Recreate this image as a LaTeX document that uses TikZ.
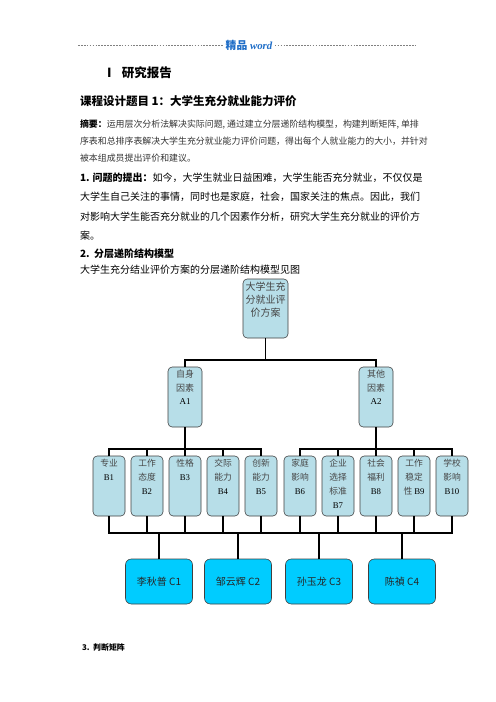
\documentclass[tikz,border=0pt]{standalone}
\usepackage{fontspec}
\setmainfont{Liberation Serif}
\newfontfamily\cjk{Noto Sans CJK SC}
\definecolor{boxfill}{RGB}{183,222,232}
\definecolor{cfill}{RGB}{0,204,255}
\definecolor{wordblue}{RGB}{31,110,200}
\definecolor{boxtext}{RGB}{70,70,70}
\begin{document}
\begin{tikzpicture}[x=1.2pt,y=-1.2pt,
        every node/.style = {inner sep=0pt,outer sep=0pt},
        txt/.style = {anchor=west,font=\cjk\fontsize{12}{14}\selectfont},
        small/.style = {anchor=west,font=\cjk\fontsize{10.7}{12}\selectfont,text=black!80},
        hbox/.style = {draw=black!75,fill=boxfill,rounded corners=5pt,line width=0.7pt,anchor=north},
        htxt/.style = {anchor=north,align=center,text=boxtext,font=\cjk\fontsize{10.5}{16.5}\selectfont},
        cbox/.style = {draw=black!75,fill=cfill,rounded corners=7pt,line width=0.7pt,
                minimum width=80.4pt,minimum height=54pt,font=\cjk\fontsize{12}{14}\selectfont,text=black!85},
        conn/.style = {draw=black,line width=1.8pt},
        hdash/.style = {draw=black!50,line width=0.5pt,dash pattern=on 2pt off 1.5pt}]
    \path[fill=white] (0,0) rectangle (496,702);
    % header
    \node[font=\cjk\bfseries\fontsize{13}{15}\selectfont,text=wordblue] (hdr) at (249,45) {精品\itshape\rmfamily\ word};
    \coordinate (hl) at (78,45);
    \coordinate (hr) at (416,45);
    \draw[hdash] (hl) -- ([xshift=-3pt]hdr.west);
    \draw[hdash] ([xshift=3pt]hdr.east) -- (hr);
    % text
    \node[txt,font=\bfseries\fontsize{15}{17}\selectfont] (sec1) at (103,73) {{\cjk Ⅰ}\ \ {\cjk 研究报告}};
    \node[txt,font=\cjk\bfseries\fontsize{13.8}{16}\selectfont] (title) at (80,101) {课程设计题目 1：大学生充分就业能力评价};
    \node[small] (abs1) at (80,124) {{\bfseries\color{black}摘要：}运用层次分析法解决实际问题, 通过建立分层递阶结构模型，构建判断矩阵, 单排};
    \node[small] (abs2) at (80,141) {序表和总排序表解决大学生充分就业能力评价问题，得出每个人就业能力的大小，并针对};
    \node[small] (abs3) at (80,158) {被本组成员提出评价和建议。};
    \node[txt] (p1) at (80,178) {{\bfseries 1. 问题的提出：}如今，大学生就业日益困难，大学生能否充分就业，不仅仅是};
    \node[txt] (p2) at (80,197) {大学生自己关注的事情，同时也是家庭，社会，国家关注的焦点。因此，我们};
    \node[txt] (p3) at (80,217) {对影响大学生能否充分就业的几个因素作分析，研究大学生充分就业的评价方};
    \node[txt] (p4) at (80,236) {案。};
    \node[txt,font=\cjk\bfseries\fontsize{12}{14}\selectfont] (sec2) at (80,254) {2.\ \ 分层递阶结构模型};
    \node[txt] (intro) at (80,270) {大学生充分结业评价方案的分层递阶结构模型见图};
    \node[txt,font=\cjk\bfseries\fontsize{9.5}{12}\selectfont] (sec3) at (82,647) {3.\ \ 判断矩阵};
    % hierarchy
    \coordinate (busA) at (0,360);
    \coordinate (busB) at (0,449);
    \coordinate (busC) at (0,533);
    \node[hbox,minimum width=54pt,minimum height=70.8pt] (top) at (265.5,279) {};
    \node[htxt,font=\cjk\fontsize{12}{15.3}\selectfont] at ([yshift=-4pt]top.north) {大学生充\\分就业评\\价方案};
    \node[hbox,minimum width=40.8pt,minimum height=72pt] (a1) at (185,367) {};
    \node[hbox,minimum width=40.8pt,minimum height=72pt] (a2) at (376,367) {};
    \node[htxt,font=\cjk\fontsize{10.8}{16}\selectfont] at ([yshift=-4pt]a1.north) {自身\\因素\\\rmfamily\color{black}A1};
    \node[htxt,font=\cjk\fontsize{10.8}{16}\selectfont] at ([yshift=-4pt]a2.north) {其他\\因素\\\rmfamily\color{black}A2};
    \foreach \n/\x/\t in {1/109/{专业\\\rmfamily\color{black}B1},2/147/{工作\\态度\\\rmfamily\color{black}B2},
            3/185/{性格\\\rmfamily\color{black}B3},4/223/{交际\\能力\\\rmfamily\color{black}B4},
            5/261/{创新\\能力\\\rmfamily\color{black}B5},6/300/{家庭\\影响\\\rmfamily\color{black}B6},
            7/338/{企业\\选择\\标准\\\rmfamily\color{black}B7},8/376/{社会\\福利\\\rmfamily\color{black}B8},
            9/414/{工作\\稳定\\性 \rmfamily\color{black}B9},10/452/{学校\\影响\\\rmfamily\color{black}B10}}{
        \node[hbox,minimum width=38.4pt,minimum height=72pt] (b\n) at (\x,456) {};
        \node[htxt] at ([yshift=-4pt]b\n.north) {\t};
    }
    \node[cbox] (c1) at (159,581.5) {李秋普 C1};
    \node[cbox] (c2) at (238,581.5) {邹云辉 C2};
    \node[cbox] (c3) at (319,581.5) {孙玉龙 C3};
    \node[cbox] (c4) at (402,581.5) {陈禎 C4};
    % connectors
    \draw[conn] (top.south) -- (top.south |- busA);
    \draw[conn] (a1.north) |- (a2.north |- busA) -- (a2.north);
    \draw[conn] (a1.south) -- (a1.south |- busB);
    \draw[conn] (a2.south) -- (a2.south |- busB);
    \draw[conn] (b1.north) |- (b5.north |- busB) -- (b5.north);
    \draw[conn] (b6.north) |- (b10.north |- busB) -- (b10.north);
    \foreach \n in {2,3,4,7,8,9}
        \draw[conn] (b\n.north) -- (b\n.north |- busB);
    \draw[conn] (b1.south) |- (b10.south |- busC) -- (b10.south);
    \foreach \n in {2,...,9}
        \draw[conn] (b\n.south) -- (b\n.south |- busC);
    \foreach \n in {1,...,4}
        \draw[conn] (c\n.north) -- (c\n.north |- busC);
\end{tikzpicture}
\end{document}
